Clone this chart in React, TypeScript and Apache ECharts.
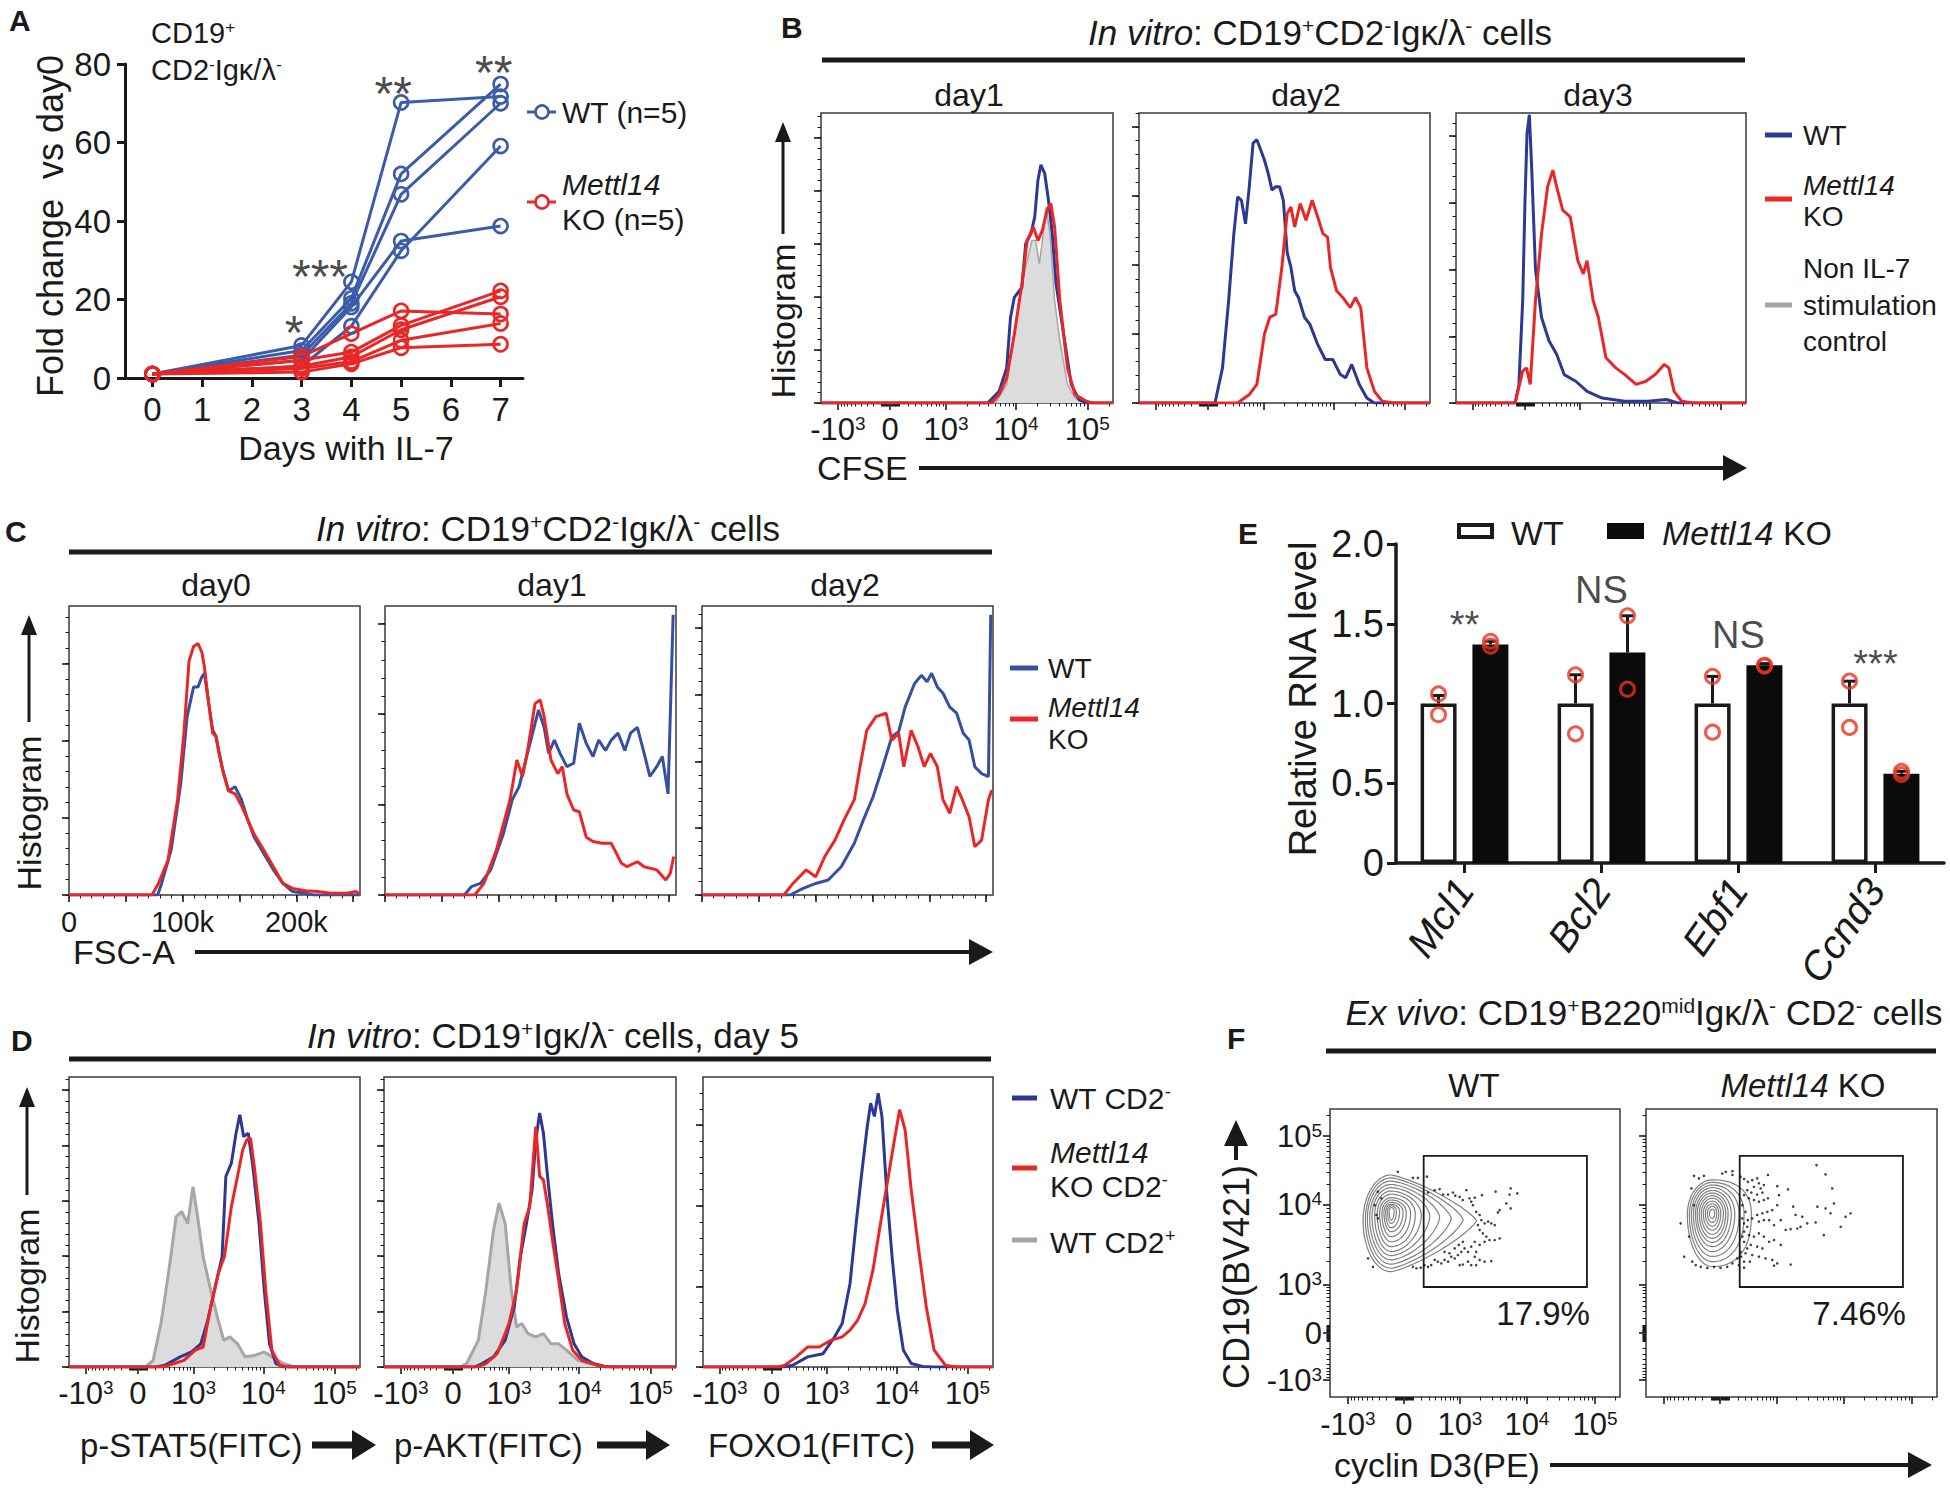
import React, { useEffect, useRef } from "react";
import * as echarts from "echarts";

const FONT = "'Liberation Sans', Arial, Helvetica, sans-serif";
const INK = "#1a1a1a";
const BLUE_A = "#3c5ba9";
const NAVY = "#2b3995";
const BLUE_C = "#3550a2";
const RED = "#ea2626";
const GRAY_LINE = "#a6a6a6";
const GRAY_FILL = "#dcdcdc";

/* ---------------- Panel A : fold change ---------------- */
const daysA = [0, 3, 4, 5, 7];
const dayTicksA = [0, 1, 2, 3, 4, 5, 6, 7];
const wtFold = [
  [1, 8.3, 24.5, 70.2, 71.7],
  [1, 7.0, 20.3, 52.0, 74.9],
  [1, 5.8, 19.0, 46.8, 70.0],
  [1, 4.5, 18.1, 34.9, 38.7],
  [1, 3.0, 13.2, 32.4, 59.1],
];
const koFold = [
  [1, 5.5, 11.3, 17.1, 16.3],
  [1, 4.5, 6.6, 13.4, 22.2],
  [1, 3.0, 5.4, 12.3, 20.7],
  [1, 2.4, 4.2, 9.6, 13.9],
  [1, 1.5, 3.6, 7.7, 8.6],
];
const starTextA = ["*", "***", "**", "**"];
const starPosA = [[2.85, 11.7], [3.37, 25.8], [4.84, 72.6], [6.86, 77.9]];

/* ---------------- FACS axis ticks ---------------- */
const facsTickText = ["{b|-10}{s|3}", "{b|0}", "{b|10}{s|3}", "{b|10}{s|4}", "{b|10}{s|5}"];
const facsMajorBD = [58, 237, 428, 668, 912];
const facsMajorFx = [62, 255, 448, 679, 914];
const facsMajorFy = [59, 222, 389, 667, 906];
const fscTickVals = [0, 100, 200];
const fscTickText = ["0", "100k", "200k"];

/* ---------------- Panel B : CFSE (x: display channel 0-1000, y: % max) ---------------- */
const cfseDay1WT = [[0,0],[571,0],[610,4],[636,12.1],[649,29.5],[662,36.4],[688,39.9],[701,54.9],[719,58.4],[732,64.2],[743,76.9],[753,82.1],[766,79.2],[779,69.9],[792,58.4],[805,41],[831,23.7],[857,6.4],[883,1.2],[909,0],[1000,0]];
const cfseDay1KO = [[0,0],[584,0],[610,2.9],[636,8.7],[662,23.7],[688,41],[706,56],[727,60.7],[743,56],[758,59.5],[774,66.5],[787,68.8],[800,60.7],[818,35.3],[844,12.1],[870,2.9],[909,0.6],[930,0],[1000,0]];
const cfseDay1Ctrl = [[0,0],[597,0],[636,6.4],[662,23.7],[688,41],[706,49],[722,56],[735,56],[748,48],[758,56],[771,67.6],[784,58.4],[800,35.3],[818,21.4],[844,6.4],[870,1.7],[896,0.6],[920,0],[1000,0]];
const cfseDay2WT = [[0,0],[261,0],[287,12.1],[308,35.3],[326,58.4],[339,71.1],[352,69.9],[366,61.8],[379,74.6],[392,89.6],[405,90.8],[418,87.3],[431,83.8],[444,79.2],[457,73.4],[470,74.6],[483,74.6],[496,69.9],[509,52],[522,46.8],[535,38.7],[548,36.4],[569,29.5],[587,27.2],[614,20.2],[640,15],[666,15],[692,9.8],[710,8.7],[731,13.3],[757,6.4],[783,1.7],[809,0],[1000,0]];
const cfseDay2KO = [[0,0],[339,0],[379,2.9],[405,6.4],[431,23.7],[449,29.5],[470,30.6],[491,46.8],[509,65.3],[522,67.6],[535,60.7],[554,68.8],[574,63],[595,69.9],[614,64.2],[632,58.4],[648,57.2],[658,46.8],[679,38.7],[700,36.4],[726,32.9],[744,36.4],[762,32.9],[783,12.1],[809,4],[836,0.6],[875,0],[1000,0]];
const cfseDay3WT = [[0,0],[204,0],[217,6.4],[230,35.3],[238,70],[245,93.1],[253,99.4],[261,81],[274,46.2],[295,29.5],[321,21.4],[347,16.8],[373,9.8],[413,7.5],[452,4],[504,1.7],[582,0.6],[661,0.6],[726,1.2],[765,0],[1000,0]];
const cfseDay3KO = [[0,0],[204,0],[230,11],[243,12.1],[256,6.4],[274,35.3],[295,58.4],[316,74.6],[334,80.3],[347,74.6],[368,66.5],[394,64.2],[420,49.1],[439,44.5],[452,49.1],[473,35.3],[491,29.5],[517,15.6],[551,12.1],[582,9.8],[621,6.4],[655,7.5],[687,9.8],[718,13.3],[734,12.1],[752,4],[778,0.6],[817,0],[1000,0]];

/* ---------------- Panel C : FSC-A (x: FSC in k, y: % max) ---------------- */
const fscDay0WT = [[0,0],[78,0],[81.5,4],[89.9,15.6],[98.3,38.6],[103.9,61.7],[109.6,72],[113.5,72],[116.9,75.5],[119.1,76.7],[122.5,67.5],[126.4,57],[129.2,55],[134.8,44],[140.4,36],[146.1,37.5],[151.7,33],[157.3,26],[162.9,20],[171.3,14.4],[179.8,8.7],[188.2,4],[196.6,1.2],[207.9,0.6],[215,0],[256,0]];
const fscDay0KO = [[0,0],[73,0],[78.7,4],[87.1,12],[95.5,33],[101.1,56],[105.6,81],[109.6,86],[113.5,87],[116.9,84],[119.1,79],[122.5,67.5],[126.4,56],[129.2,55],[132,49],[136,42],[140.4,36],[146.1,35],[151.7,31],[157.3,26],[162.9,21],[171.3,15.6],[179.8,9.8],[188.2,4],[196.6,2.3],[207.9,1.5],[219.1,1.2],[230.3,0.6],[244.4,0.6],[252.8,1.2],[256,0]];
const fscDay1WT = [[0,0],[70,0],[76,2.9],[84,4],[93,8.7],[104,21],[112,33],[118,37.5],[126,50],[135,64],[140,58],[144,49],[149,53.6],[154,49],[160,44.4],[166,45.6],[171,59.4],[177,52.5],[183,47.9],[188,53.6],[194,50],[199,53.6],[205,56],[211,50],[216,56],[222,58],[228,49],[233,41],[239,44.4],[244,47.9],[249,35],[253.5,97]];
const fscDay1KO = [[0,0],[79,0],[87,4],[98,15.6],[110,33],[116,46.7],[121,41],[126,51.3],[132,66.3],[136.5,67.5],[140,61.7],[146,46.7],[152,42],[156,44.4],[160,35],[166,29.4],[171,28.8],[177,20],[183,18.5],[191,17.9],[199,17.9],[202,15.6],[208,11],[213,9.8],[222,11.5],[228,9.8],[239,8.7],[247,5.2],[251,7.5],[254,13.3]];
const fscDay2WT = [[0,0],[77.5,0],[89,2.3],[100,4],[111,5.2],[122.5,9.8],[134,17.9],[142,26],[150.5,34],[159,44.4],[167,54.8],[173,56.5],[178.7,65],[187,73.2],[193,76],[198,73.8],[202,76.7],[207,72],[212,69.8],[218,65],[224,62.9],[229.8,56],[235,53.6],[240,44.4],[246,42],[252,41],[254,97]];
const fscDay2KO = [[0,0],[72,0],[80,4],[91.6,8.7],[100,6.3],[108,13.3],[117,19],[125,26],[134,33],[139,44.4],[145,57],[153,61.7],[162,62.9],[167,53.6],[173,56],[177.5,44.4],[184,57],[190,51.3],[195.5,44.4],[201,49],[207,44.4],[212,33],[218,28.3],[224,37.5],[229,33],[235,27],[240,16.7],[246,19],[252,33],[255,36.3]];

/* ---------------- Panel D : phospho flow (x: display channel, y: % max) ---------------- */
const stat5CD2pos = [[0,0],[263,0],[289,2.3],[316,15],[342,32.3],[368,51.8],[387,53.6],[408,49.5],[426,62.2],[442,51.8],[461,38],[487,26.5],[513,16],[532,9.2],[553,10.4],[579,8],[605,3.5],[637,4],[671,5.2],[697,3.5],[737,1.2],[776,0],[1000,0]];
const stat5WT = [[0,0],[300,0],[329,0.6],[382,3.5],[421,5.2],[453,8],[474,15],[500,26.5],[526,38],[539,65.7],[558,70.3],[574,80.6],[587,87],[600,79.5],[616,80.6],[632,69],[653,49.5],[671,26.5],[689,8],[711,1.2],[737,0],[1000,0]];
const stat5KO = [[0,0],[320,0],[342,0.6],[395,2.3],[434,5.8],[461,6.9],[487,20.7],[513,32.3],[534,38],[558,55.3],[579,65.7],[597,74.9],[611,78.3],[624,78.9],[637,69],[658,49.5],[676,26.5],[697,5.8],[724,0.6],[750,0],[1000,0]];
const aktCD2pos = [[0,0],[260,0],[283,1.2],[323,9.2],[349,26.5],[375,47.2],[394,56.5],[415,49.5],[436,26.5],[454,13.8],[472,15],[493,11.5],[520,10.4],[546,11.5],[572,8],[598,8],[625,5.8],[664,2.3],[703,1.2],[756,0.2],[800,0],[1000,0]];
const aktWT = [[0,0],[310,0],[336,1.2],[375,3.5],[415,9.2],[446,20.7],[467,38],[488,49.5],[507,61],[520,78.3],[533,87.6],[546,80.6],[559,66.8],[577,49.5],[598,32.3],[625,17.3],[651,8],[677,3.5],[717,1.2],[756,0.2],[800,0],[1000,0]];
const aktKO = [[0,0],[320,0],[349,1.2],[388,4.6],[428,15],[454,26.5],[480,49.5],[499,55.3],[512,72.6],[520,82.9],[533,65.7],[546,64.5],[559,56.5],[577,43.8],[598,30],[619,15],[646,5.8],[677,2.3],[730,0.6],[760,0],[1000,0]];
const foxo1WT = [[0,0],[280,0],[309,0.6],[361,3.5],[414,4.6],[454,10.4],[480,15],[507,28.8],[528,49.5],[546,65.7],[565,81.8],[578,91],[591,86.4],[604,94.4],[617,86.4],[633,61],[652,38],[670,19.6],[691,5.8],[718,1.2],[757,0.2],[790,0],[1000,0]];
const foxo1KO = [[0,0],[260,0],[282,0.6],[322,3.5],[361,6.9],[401,6.9],[441,9.2],[480,10.4],[507,12.7],[533,16.1],[559,21.9],[586,33.4],[612,49.5],[639,65.7],[660,78.3],[678,88.7],[697,81.8],[718,61],[744,40.3],[770,20.7],[797,5.8],[836,0.6],[870,0],[1000,0]];

/* ---------------- Panel E : relative RNA ---------------- */
const genes = ["Mcl1", "Bcl2", "Ebf1", "Ccnd3"];
const wtRNA = [1, 1, 1, 1];
const koRNA = [1.37, 1.32, 1.24, 0.56];
const wtRNAErrTop = [1.05, 1.18, 1.17, 1.14];
const koRNAErrTop = [1.39, 1.55, 1.25, 0.575];
const wtRNADots = [[1.06, 0.93], [1.18, 0.81], [1.17, 0.82], [1.14, 0.85]];
const koRNADots = [[1.39, 1.36], [1.55, 1.09], [1.24, 1.235], [0.575, 0.555]];
const sigText = ["**", "NS", "NS", "***"];
const sigY = [1.49, 1.71, 1.43, 1.25];

/* ---------------- Panel F : cyclin D3 contour (display channel units) ---------------- */
const wtCenterX = 211;
const wtContourMidY = [612, 616, 620, 624, 628, 632, 635, 638, 640, 642, 644, 645, 646];
const wtContourLeft = [114, 122, 129, 137, 145, 154, 163, 171, 179, 186, 192, 198, 204];
const wtContourRight = [505, 459, 418, 378, 344, 315, 294, 278, 263, 252, 240, 229, 221];
const wtContourTop = [771, 761, 750, 738, 727, 715, 704, 692, 684, 676, 669, 664, 658];
const wtContourBottom = [435, 447, 461, 476, 491, 505, 522, 539, 557, 574, 588, 603, 614];
const wtContourTail = [1.6, 1.5, 1.4, 1.3, 1.2, 1.1, 1, 1, 1, 1, 1, 1, 1];
const koCenterX = 228;
const koContourMidY = [632, 633, 634, 635, 636, 637, 637, 638, 638, 638, 638, 638];
const koContourLeft = [142, 149, 156, 163, 170, 176, 183, 190, 197, 204, 211, 218];
const koContourRight = [362, 337, 320, 305, 293, 282, 274, 266, 257, 250, 243, 236];
const koContourTop = [754, 745, 736, 727, 717, 708, 699, 690, 680, 671, 662, 652];
const koContourBottom = [453, 470, 488, 505, 522, 537, 551, 565, 579, 593, 606, 620];
const koContourTail = [0.85, 0.9, 0.95, 1, 1, 1, 1, 1, 1, 1, 1, 1];
const wtDots = [[234,782],[286,761],[303,761],[334,765],[378,722],[390,703],[407,703],[424,710],[432,699],[447,695],[458,684],[470,718],[481,690],[487,678],[499,692],[524,701],[571,713],[623,724],[619,703],[646,707],[608,672],[623,655],[585,649],[579,641],[516,632],[522,614],[533,603],[545,609],[556,603],[568,597],[516,580],[527,568],[539,557],[550,545],[568,545],[585,551],[533,539],[516,528],[499,539],[487,522],[476,504],[464,516],[453,504],[441,493],[430,481],[418,487],[407,470],[395,476],[384,464],[372,470],[361,476],[349,458],[338,452],[326,458],[313,449],[298,447],[286,452],[499,487],[516,476],[533,470],[556,472],[476,470],[458,460],[447,458],[487,458],[504,458],[395,504],[412,499],[430,516],[444,528],[458,539],[131,481],[148,452],[165,713],[177,690],[154,666],[160,632],[165,620],[361,718],[338,710],[493,666],[504,643],[510,597],[504,504]];
const koDots = [[165,768],[182,759],[199,768],[262,776],[274,782],[297,784],[297,771],[325,765],[337,757],[350,747],[365,753],[382,759],[388,742],[419,771],[371,730],[394,724],[405,736],[348,718],[362,710],[382,703],[400,710],[337,701],[354,690],[371,684],[388,678],[405,684],[419,690],[451,732],[457,701],[488,721],[506,661],[451,666],[434,649],[417,643],[400,638],[382,632],[365,620],[350,614],[337,603],[388,609],[405,614],[423,614],[440,597],[463,614],[480,580],[497,583],[520,585],[531,591],[554,603],[583,606],[611,562],[514,632],[537,626],[589,661],[617,655],[634,638],[646,672],[640,724],[617,773],[586,805],[669,591],[686,626],[703,638],[337,574],[354,562],[371,557],[388,568],[405,557],[423,539],[440,545],[463,528],[337,539],[360,528],[382,522],[400,516],[325,504],[342,499],[365,493],[388,487],[411,481],[434,476],[451,464],[497,460],[440,456],[337,470],[314,481],[297,464],[279,452],[256,448],[234,452],[211,448],[188,452],[171,458],[159,470],[131,487],[119,603],[148,557],[165,666],[156,724],[331,666],[342,643],[331,620],[348,591],[331,557],[348,516],[327,487],[357,470],[319,458],[337,449]];
const gateWT = [323, 382, 886, 837];
const gateKO = [322, 382, 883, 837];
const gatePct = ["17.9%", "7.46%"];

/* ---------------- helpers ---------------- */
function rich(fs: number) {
  return {
    b: { fontSize: fs, fontFamily: FONT, color: INK },
    i: { fontSize: fs, fontFamily: FONT, color: INK, fontStyle: "italic" },
    s: { fontSize: Math.round(fs * 0.6), fontFamily: FONT, color: INK, verticalAlign: "top" },
  };
}
function T(x: number, y: number, text: string, fs: number, o: any = {}) {
  return {
    type: "text", x, y, rotation: o.rot || 0, z: 50, silent: true,
    style: {
      text, fill: INK, fontSize: fs, fontFamily: FONT,
      fontWeight: o.bold ? "bold" : "normal", fontStyle: o.italic ? "italic" : "normal",
      align: o.align || "left", verticalAlign: "middle", rich: rich(fs),
    },
  };
}
function L(x1: number, y1: number, x2: number, y2: number, w: number, color = INK) {
  return { type: "line", z: 50, silent: true, shape: { x1, y1, x2, y2 }, style: { stroke: color, lineWidth: w } };
}
function P(points: number[][], color = INK) {
  return { type: "polygon", z: 50, silent: true, shape: { points }, style: { fill: color } };
}
function arrowRight(x1: number, x2: number, y: number, w: number, hl: number, hh: number) {
  return [L(x1, y, x2 - hl + 2, y, w), P([[x2, y], [x2 - hl, y - hh / 2], [x2 - hl, y + hh / 2]])];
}
function arrowUp(x: number, y1: number, y2: number, w: number, hl: number, hw: number) {
  return [L(x, y1, x, y2 + hl - 2, w), P([[x, y2], [x - hw / 2, y2 + hl], [x + hw / 2, y2 + hl]])];
}
function facsMinor(maj: number[]) {
  const [pn, p0, p3, p4, p5] = maj;
  const g = (f: number) => Math.asinh(3.06 * f) / Math.asinh(3.06);
  const out: number[] = [];
  for (let k = 1; k <= 9; k++) {
    out.push(p0 + (p3 - p0) * g(k / 10), p0 - (p0 - pn) * g(k / 10));
    out.push(p0 + (p3 - p0) * g(k / 100), p0 - (p0 - pn) * g(k / 100));
  }
  for (let m = 2; m <= 9; m++) {
    const l = Math.log10(m);
    out.push(p3 + (p4 - p3) * l, p4 + (p5 - p4) * l, p5 + (p5 - p4) * l);
  }
  return out.filter((v) => v > 0 && v < 1000);
}
function linTicks(max: number, step: number) {
  const o: number[] = [];
  for (let v = 0; v <= max + 1e-6; v += step) o.push(+v.toFixed(3));
  return o;
}

function buildOption() {
  const grids: any[] = [];
  const xAxes: any[] = [];
  const yAxes: any[] = [];
  const series: any[] = [];
  const g: any[] = [];

  const axisObj = (gi: number, dim: string, c: any, major: boolean) => ({
    gridIndex: gi, type: "value", min: c.min, max: c.max,
    position: dim === "x" ? "bottom" : "left",
    axisLine: { show: false, onZero: false }, splitLine: { show: false },
    axisTick: { show: true, customValues: major ? c.major : c.minor, length: major ? 7 : 3.5,
      lineStyle: { color: INK, width: major ? 1.6 : 1 } },
    axisLabel: major && c.labels
      ? { show: true, customValues: c.labels.pos, margin: c.labels.margin, color: INK,
          fontSize: c.labels.fs, fontFamily: FONT, rich: rich(c.labels.fs),
          formatter: (v: number) => {
            const i = c.labels.pos.findIndex((p: number) => Math.abs(p - v) < 0.01);
            return i >= 0 ? c.labels.text[i] : "";
          } }
      : { show: false },
  });
  const addBox = (box: number[], xc: any, yc: any) => {
    const gi = grids.length;
    grids.push({ left: box[0], top: box[1], width: box[2], height: box[3], show: true,
      borderColor: "#3a3a3a", borderWidth: 1.5, backgroundColor: "transparent",
      containLabel: false, outerBoundsMode: "none" });
    const xi = xAxes.length;
    xAxes.push(axisObj(gi, "x", xc, true), axisObj(gi, "x", xc, false));
    const yi = yAxes.length;
    yAxes.push(axisObj(gi, "y", yc, true), axisObj(gi, "y", yc, false));
    return { xi, yi };
  };
  const hist = (ax: any, data: number[][], color: string, width: number, fill?: string, z = 3) => ({
    type: "line", xAxisIndex: ax.xi, yAxisIndex: ax.yi, data, showSymbol: false, symbol: "none",
    silent: true, z, lineStyle: { color, width },
    areaStyle: fill ? { color: fill, opacity: 1 } : undefined,
  });
  const facsX = (maj: number[], labels: boolean, fs: number, margin: number) => ({
    min: 0, max: 1000, major: maj, minor: facsMinor(maj),
    labels: labels ? { pos: maj, text: facsTickText, fs, margin } : null,
  });
  const yHist = (step: number) => ({ min: 0, max: 100, major: linTicks(100, step), minor: linTicks(100, step / 5) });

  /* ---------- Panel A ---------- */
  grids.push({ left: 125, top: 64, width: 398, height: 314, containLabel: false, outerBoundsMode: "none" });
  const aX = xAxes.length, aY = yAxes.length;
  xAxes.push({ gridIndex: 0, type: "value", min: -0.55, max: 7.45,
    axisLine: { show: true, onZero: false, lineStyle: { color: INK, width: 3 } },
    axisTick: { show: true, customValues: dayTicksA, length: 9, lineStyle: { color: INK, width: 3 } },
    axisLabel: { customValues: dayTicksA, color: INK, fontSize: 33, fontFamily: FONT, margin: 15 },
    splitLine: { show: false } });
  yAxes.push({ gridIndex: 0, type: "value", min: 0, max: 80, interval: 20,
    axisLine: { show: true, onZero: false, lineStyle: { color: INK, width: 3 } },
    axisTick: { show: true, length: 8, lineStyle: { color: INK, width: 3 } },
    axisLabel: { color: INK, fontSize: 33, fontFamily: FONT, margin: 14 },
    splitLine: { show: false } });
  const lineA = (vals: number[], color: string) => ({
    type: "line", xAxisIndex: aX, yAxisIndex: aY, silent: true, z: 4,
    data: daysA.map((d, j) => [d, vals[j]]), symbol: "circle", symbolSize: 14,
    lineStyle: { color, width: 3 },
    itemStyle: { color: "rgba(255,255,255,0)", borderColor: color, borderWidth: 2.6 },
  });
  wtFold.forEach((v) => series.push(lineA(v, BLUE_A)));
  koFold.forEach((v) => series.push(lineA(v, RED)));
  series.push({ type: "scatter", xAxisIndex: aX, yAxisIndex: aY, symbolSize: 0, silent: true, z: 6,
    data: starPosA.map((p, i) => ({ value: p, label: { show: true, formatter: starTextA[i], position: "inside",
      color: INK, fontSize: 48, fontFamily: FONT } })) });

  g.push(T(9, 20, "A", 30, { bold: true }));
  g.push(T(151, 33, "{b|CD19}{s|+}", 29));
  g.push(T(151, 70, "{b|CD2}{s|-}{b|Igκ/λ}{s|-}", 29));
  g.push(T(50, 226, "Fold change  vs day0", 36, { rot: Math.PI / 2, align: "center" }));
  g.push(T(346, 448, "Days with IL-7", 34, { align: "center" }));
  g.push(L(527, 112, 556, 112, 3, BLUE_A));
  g.push({ type: "circle", z: 51, silent: true, shape: { cx: 542, cy: 112, r: 6.5 }, style: { fill: "#fff", stroke: BLUE_A, lineWidth: 2.6 } });
  g.push(T(562, 112, "WT (n=5)", 30));
  g.push(L(527, 202, 556, 202, 3, RED));
  g.push({ type: "circle", z: 51, silent: true, shape: { cx: 542, cy: 202, r: 6.5 }, style: { fill: "#fff", stroke: RED, lineWidth: 2.6 } });
  g.push(T(562, 184, "Mettl14", 30, { italic: true }));
  g.push(T(562, 219, "KO (n=5)", 30));

  /* ---------- Panel B ---------- */
  const boxB = [[821, 113, 292, 290], [1139, 113, 291, 290], [1456, 113, 290, 290]];
  const cfseSets: any[] = [
    { wt: cfseDay1WT, ko: cfseDay1KO, ctrl: cfseDay1Ctrl, step: 18.3 },
    { wt: cfseDay2WT, ko: cfseDay2KO, step: 23.8 },
    { wt: cfseDay3WT, ko: cfseDay3KO, step: 23 },
  ];
  cfseSets.forEach((s, i) => {
    const ax = addBox(boxB[i], facsX(facsMajorBD, i === 0, 31, 11), yHist(s.step));
    if (s.ctrl) series.push(hist(ax, s.ctrl, GRAY_LINE, 1.5, GRAY_FILL, 2));
    series.push(hist(ax, s.wt, NAVY, 3));
    series.push(hist(ax, s.ko, RED, 3));
  });
  g.push(T(781, 27, "B", 30, { bold: true }));
  g.push(T(1320, 32, "{i|In vitro}{b|: CD19}{s|+}{b|CD2}{s|-}{b|Igκ/λ}{s|-}{b| cells}", 35, { align: "center" }));
  g.push(L(822, 60, 1745, 60, 5));
  g.push(T(969, 95, "day1", 32, { align: "center" }));
  g.push(T(1306, 95, "day2", 32, { align: "center" }));
  g.push(T(1598, 95, "day3", 32, { align: "center" }));
  g.push(T(783, 321, "Histogram", 34, { rot: Math.PI / 2, align: "center" }));
  g.push(...arrowUp(783, 234, 122, 3, 20, 16));
  g.push(T(817, 468, "CFSE", 34));
  g.push(...arrowRight(919, 1747, 468, 4, 24, 26));
  g.push(L(1765, 135, 1792, 135, 5, NAVY));
  g.push(T(1803, 135, "WT", 28));
  g.push(L(1765, 199, 1792, 199, 5, RED));
  g.push(T(1803, 185, "Mettl14", 28, { italic: true }));
  g.push(T(1803, 216, "KO", 28));
  g.push(L(1765, 305, 1792, 305, 5, GRAY_LINE));
  g.push(T(1803, 268, "Non IL-7", 28));
  g.push(T(1803, 305, "stimulation", 28));
  g.push(T(1803, 341, "control", 28));

  /* ---------- Panel C ---------- */
  const boxC = [[69, 606, 291, 289], [385, 606, 291, 289], [702, 606, 291, 289]];
  const fscSets = [
    { wt: fscDay0WT, ko: fscDay0KO, step: 26.7 },
    { wt: fscDay1WT, ko: fscDay1KO, step: 31.3 },
    { wt: fscDay2WT, ko: fscDay2KO, step: 23.1 },
  ];
  fscSets.forEach((s, i) => {
    const xc = { min: 0, max: 256, major: linTicks(250, 50), minor: linTicks(256, 10),
      labels: i === 0 ? { pos: fscTickVals, text: fscTickText, fs: 29, margin: 12 } : null };
    const ax = addBox(boxC[i], xc, yHist(s.step));
    series.push(hist(ax, s.wt, BLUE_C, 3));
    series.push(hist(ax, s.ko, RED, 3));
  });
  g.push(T(5, 531, "C", 30, { bold: true }));
  g.push(T(548, 528, "{i|In vitro}{b|: CD19}{s|+}{b|CD2}{s|-}{b|Igκ/λ}{s|-}{b| cells}", 35, { align: "center" }));
  g.push(L(69, 552, 992, 552, 5));
  g.push(T(216, 585, "day0", 32, { align: "center" }));
  g.push(T(552, 585, "day1", 32, { align: "center" }));
  g.push(T(845, 585, "day2", 32, { align: "center" }));
  g.push(T(29, 813, "Histogram", 34, { rot: Math.PI / 2, align: "center" }));
  g.push(...arrowUp(29, 722, 615, 3, 20, 16));
  g.push(T(73, 952, "FSC-A", 34));
  g.push(...arrowRight(195, 993, 952, 4, 24, 26));
  g.push(L(1010, 668, 1038, 668, 5, BLUE_C));
  g.push(T(1048, 668, "WT", 28));
  g.push(L(1010, 719, 1038, 719, 5, RED));
  g.push(T(1048, 707, "Mettl14", 28, { italic: true }));
  g.push(T(1048, 739, "KO", 28));

  /* ---------- Panel D ---------- */
  const boxD = [[69, 1077, 291, 290], [384, 1077, 292, 290], [703, 1077, 290, 290]];
  const phosSets: any[] = [
    { wt: stat5WT, ko: stat5KO, ctrl: stat5CD2pos, step: 19.1 },
    { wt: aktWT, ko: aktKO, ctrl: aktCD2pos, step: 19.1 },
    { wt: foxo1WT, ko: foxo1KO, step: 27.8 },
  ];
  phosSets.forEach((s, i) => {
    const ax = addBox(boxD[i], facsX(facsMajorBD, true, 31, 11), yHist(s.step));
    if (s.ctrl) series.push(hist(ax, s.ctrl, GRAY_LINE, 3, GRAY_FILL, 2));
    series.push(hist(ax, s.wt, NAVY, 3));
    series.push(hist(ax, s.ko, RED, 3));
  });
  g.push(T(11, 1040, "D", 30, { bold: true }));
  g.push(T(553, 1035, "{i|In vitro}{b|: CD19}{s|+}{b|Igκ/λ}{s|-}{b| cells, day 5}", 35, { align: "center" }));
  g.push(L(69, 1059, 991, 1059, 5));
  g.push(T(27, 1286, "Histogram", 34, { rot: Math.PI / 2, align: "center" }));
  g.push(...arrowUp(27, 1195, 1087, 3, 20, 16));
  g.push(T(80, 1445, "p-STAT5(FITC)", 33));
  g.push(...arrowRight(312, 376, 1445, 7, 24, 30));
  g.push(T(394, 1445, "p-AKT(FITC)", 33));
  g.push(...arrowRight(597, 670, 1445, 7, 24, 30));
  g.push(T(708, 1445, "FOXO1(FITC)", 33));
  g.push(...arrowRight(932, 994, 1445, 7, 24, 30));
  g.push(L(1012, 1098, 1037, 1098, 5, NAVY));
  g.push(T(1050, 1098, "{b|WT CD2}{s|-}", 30));
  g.push(L(1012, 1168, 1037, 1168, 5, RED));
  g.push(T(1050, 1152, "Mettl14", 30, { italic: true }));
  g.push(T(1050, 1186, "{b|KO CD2}{s|-}", 30));
  g.push(L(1012, 1240, 1037, 1240, 5, GRAY_LINE));
  g.push(T(1050, 1242, "{b|WT CD2}{s|+}", 30));

  /* ---------- Panel E ---------- */
  const eGi = grids.length;
  grids.push({ left: 1396, top: 544, width: 548, height: 319, containLabel: false, outerBoundsMode: "none" });
  const eX = xAxes.length, eY = yAxes.length;
  xAxes.push({ gridIndex: eGi, type: "category", data: genes,
    axisLine: { show: true, lineStyle: { color: INK, width: 3.5 } },
    axisTick: { show: true, alignWithLabel: true, length: 10, lineStyle: { color: INK, width: 3 } },
    axisLabel: { rotate: 55, interval: 0, fontStyle: "italic", fontSize: 40, fontFamily: FONT, color: INK, margin: 20 } });
  yAxes.push({ gridIndex: eGi, type: "value", min: 0, max: 2, interval: 0.5,
    axisLine: { show: true, onZero: false, lineStyle: { color: INK, width: 3.5 } },
    axisTick: { show: true, length: 9, lineStyle: { color: INK, width: 3 } },
    axisLabel: { fontSize: 38, fontFamily: FONT, color: INK, margin: 12,
      formatter: (v: number) => (v === 0 ? "0" : v.toFixed(1)) },
    splitLine: { show: false } });
  series.push({ type: "bar", name: "WT", xAxisIndex: eX, yAxisIndex: eY, data: wtRNA, barWidth: 36, barGap: "44%",
    silent: true, itemStyle: { color: "#fff", borderColor: INK, borderWidth: 3.5 } });
  series.push({ type: "bar", name: "Mettl14 KO", xAxisIndex: eX, yAxisIndex: eY, data: koRNA, barWidth: 36, barGap: "44%",
    silent: true, itemStyle: { color: "#0b0b0b" } });
  const errData = [
    ...wtRNA.map((m, i) => [i, m, wtRNAErrTop[i], -1]),
    ...koRNA.map((m, i) => [i, m, koRNAErrTop[i], 1]),
  ];
  series.push({ type: "custom", xAxisIndex: eX, yAxisIndex: eY, data: errData, silent: true, z: 5,
    renderItem: (_p: any, api: any) => {
      const c = api.value(0);
      const a = api.coord([c, api.value(1)]);
      const b = api.coord([c, api.value(2)]);
      const off = api.value(3) * 26;
      return { type: "group", children: [
        { type: "line", shape: { x1: a[0] + off, y1: a[1], x2: b[0] + off, y2: b[1] }, style: { stroke: INK, lineWidth: 3 } },
        { type: "line", shape: { x1: b[0] + off - 6, y1: b[1], x2: b[0] + off + 6, y2: b[1] }, style: { stroke: INK, lineWidth: 3 } },
      ] };
    } });
  const dotSeries = (dots: number[][], off: number) => ({
    type: "scatter", xAxisIndex: eX, yAxisIndex: eY, silent: true, z: 6, symbol: "circle", symbolSize: 14,
    symbolOffset: [off, 0],
    data: dots.flatMap((pair, i) => pair.map((v) => [i, v])),
    itemStyle: { color: "rgba(255,255,255,0)", borderColor: "#e8321f", borderWidth: 3 },
  });
  series.push(dotSeries(wtRNADots, -26));
  series.push(dotSeries(koRNADots, 26));
  series.push({ type: "scatter", xAxisIndex: eX, yAxisIndex: eY, symbolSize: 0, silent: true, z: 7,
    data: sigY.map((y, i) => ({ value: [i, y], label: { show: true, position: "inside", formatter: sigText[i],
      color: INK, fontFamily: FONT, fontSize: 38 } })) });
  g.push(T(1238, 533, "E", 30, { bold: true }));
  g.push(T(1303, 699, "Relative RNA level", 38, { rot: Math.PI / 2, align: "center" }));
  g.push({ type: "rect", z: 50, silent: true, shape: { x: 1459, y: 525, width: 33, height: 12 }, style: { fill: "#fff", stroke: INK, lineWidth: 4 } });
  g.push(T(1511, 533, "WT", 34));
  g.push({ type: "rect", z: 50, silent: true, shape: { x: 1607, y: 523, width: 37, height: 16 }, style: { fill: "#0b0b0b" } });
  g.push(T(1662, 533, "{i|Mettl14}{b| KO}", 34));

  /* ---------- Panel F ---------- */
  const boxF = [[1330, 1109, 290, 288], [1646, 1109, 291, 288]];
  const fSets = [
    { cx: wtCenterX, midY: wtContourMidY, left: wtContourLeft, right: wtContourRight, top: wtContourTop,
      bottom: wtContourBottom, tail: wtContourTail, dots: wtDots, gate: gateWT, pct: gatePct[0] },
    { cx: koCenterX, midY: koContourMidY, left: koContourLeft, right: koContourRight, top: koContourTop,
      bottom: koContourBottom, tail: koContourTail, dots: koDots, gate: gateKO, pct: gatePct[1] },
  ];
  fSets.forEach((s, i) => {
    const xc = facsX(facsMajorFx, i === 0, 31, 12);
    const yc = { min: 0, max: 1000, major: facsMajorFy, minor: facsMinor(facsMajorFy),
      labels: i === 0 ? { pos: facsMajorFy, text: facsTickText, fs: 31, margin: 8 } : null };
    const ax = addBox(boxF[i], xc, yc);
    const levels = s.left.map((l, k) => [s.cx, s.midY[k], l, s.right[k], s.top[k], s.bottom[k], s.tail[k]]);
    series.push({ type: "custom", xAxisIndex: ax.xi, yAxisIndex: ax.yi, data: levels, silent: true, z: 3,
      renderItem: (_p: any, api: any) => {
        const cx = api.value(0), cy = api.value(1), lf = api.value(2), rt = api.value(3), tp = api.value(4), bt = api.value(5), e = api.value(6);
        const pts: number[][] = [];
        for (let k = 0; k < 90; k++) {
          const t = (k / 90) * Math.PI * 2;
          const c = Math.cos(t), sn = Math.sin(t);
          const ex = c >= 0 ? e : 1;
          const xx = cx + (c >= 0 ? rt - cx : cx - lf) * Math.sign(c) * Math.pow(Math.abs(c), ex);
          const yy = cy + (sn >= 0 ? tp - cy : cy - bt) * Math.sign(sn) * Math.pow(Math.abs(sn), ex);
          pts.push(api.coord([xx, yy]));
        }
        return { type: "polygon", shape: { points: pts }, style: { fill: "none", stroke: "#808080", lineWidth: 1.2 } };
      } });
    series.push({ type: "scatter", xAxisIndex: ax.xi, yAxisIndex: ax.yi, data: s.dots, symbolSize: 2.6, silent: true, z: 4,
      itemStyle: { color: "#111" } });
    series.push({ type: "custom", xAxisIndex: ax.xi, yAxisIndex: ax.yi, data: [s.gate], silent: true, z: 5,
      renderItem: (_p: any, api: any) => {
        const a = api.coord([api.value(0), api.value(1)]);
        const b = api.coord([api.value(2), api.value(3)]);
        return { type: "group", children: [
          { type: "rect", shape: { x: a[0], y: b[1], width: b[0] - a[0], height: a[1] - b[1] }, style: { fill: "none", stroke: INK, lineWidth: 1.8 } },
          { type: "text", x: b[0] + 3, y: a[1] + 27, style: { text: s.pct, fill: INK, fontSize: 33, fontFamily: FONT, align: "right", verticalAlign: "middle" } },
        ] };
      } });
  });
  g.push(T(1227, 1038, "F", 30, { bold: true }));
  g.push(T(1644, 1012, "{i|Ex vivo}{b|: CD19}{s|+}{b|B220}{s|mid}{b|Igκ/λ}{s|-}{b| CD2}{s|-}{b| cells}", 35, { align: "center" }));
  g.push(L(1326, 1051, 1936, 1051, 5));
  g.push(T(1474, 1085, "WT", 33, { align: "center" }));
  g.push(T(1803, 1085, "{i|Mettl14}{b| KO}", 33, { align: "center" }));
  g.push(T(1334, 1465, "cyclin D3(PE)", 34));
  g.push(...arrowRight(1550, 1932, 1465, 4, 24, 26));
  g.push(T(1236, 1277, "CD19(BV421)", 36, { rot: Math.PI / 2, align: "center" }));
  g.push(...arrowUp(1236, 1160, 1120, 4, 26, 24));

  return {
    animation: false,
    backgroundColor: "#ffffff",
    textStyle: { fontFamily: FONT },
    grid: grids,
    xAxis: xAxes,
    yAxis: yAxes,
    series,
    graphic: g,
  };
}

export default function App() {
  const ref = useRef<HTMLDivElement>(null);
  useEffect(() => {
    document.body.style.margin = "0";
    const chart = echarts.init(ref.current!, undefined, { renderer: "svg", width: 1950, height: 1490 });
    chart.setOption(buildOption() as any);
    return () => chart.dispose();
  }, []);
  return (
    <div
      ref={ref}
      style={{ position: "absolute", left: 0, top: 0, width: 1950, height: 1490, background: "#fff" }}
    />
  );
}
